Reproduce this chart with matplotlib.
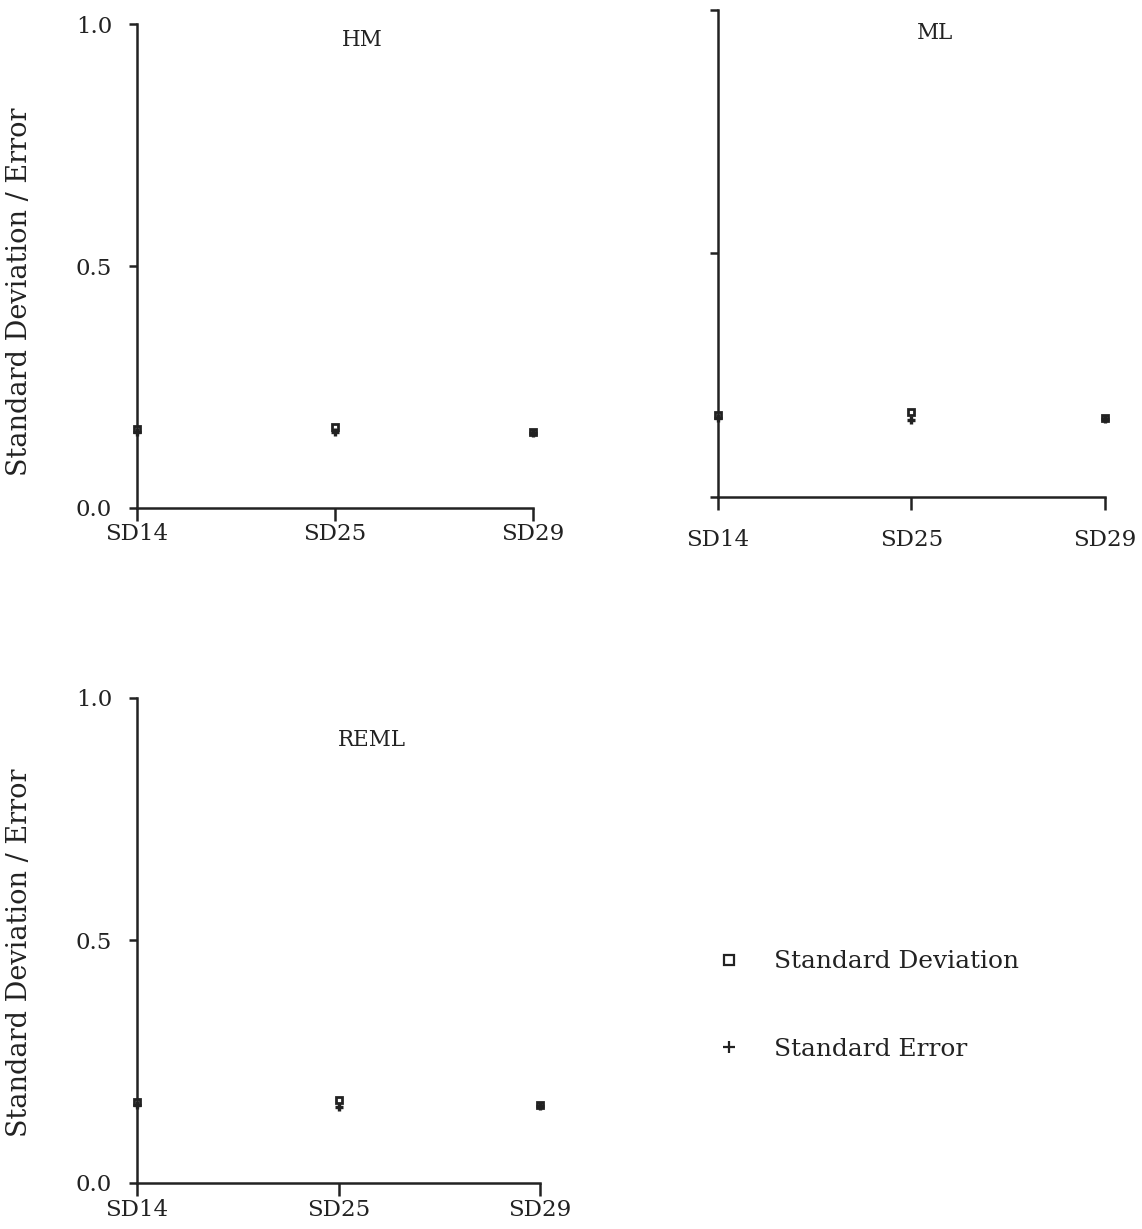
import matplotlib
matplotlib.use("Agg")
import matplotlib.pyplot as plt

plt.rcParams['font.family'] = ['DejaVu Serif']

sites = ['SD14', 'SD25', 'SD29']
methods = ['HM', 'ML', 'REML']

# standard deviation and standard error per site, for each estimation method
sd_hm = [0.163, 0.168, 0.158]
se_hm = [0.158, 0.157, 0.156]
sd_ml = [0.168, 0.175, 0.162]
se_ml = [0.163, 0.158, 0.160]
sd_reml = [0.166, 0.171, 0.159]
se_reml = [0.160, 0.156, 0.157]

ink = '#222222'
fs = 16.5

fig = plt.figure(figsize=(11.42, 12.29), dpi=100)

# [left, bottom, width, height], title pos, y labels shown, x label pad, ylabel y
panels = [
    ('HM', sd_hm, se_hm, [0.120, 0.5867, 0.3468, 0.3935], (0.568, 0.968), True, 2, 0.447),
    ('ML', sd_ml, se_ml, [0.6287, 0.5956, 0.3389, 0.3963], (0.561, 0.953), False, 14, None),
    ('REML', sd_reml, se_reml, [0.120, 0.0378, 0.3529, 0.3946], (0.583, 0.913), True, 3, 0.473),
]

for name, sd, se, rect, tpos, ylabels, xpad, ly in panels:
    ax = fig.add_axes(rect)
    x = range(len(sites))
    ax.plot(x, sd, ls='none', marker='s', ms=5, mew=2.0, mfc='none', mec=ink,
            clip_on=False, zorder=3)
    ax.plot(x, se, ls='none', marker='+', ms=6, mew=2.4, color=ink,
            clip_on=False, zorder=3)
    ax.set_xlim(0, 2)
    ax.set_ylim(0, 1)
    ax.set_xticks(list(x))
    ax.set_xticklabels(sites, fontsize=fs)
    ax.set_yticks([0.0, 0.5, 1.0])
    if ylabels:
        ax.set_yticklabels(['0.0', '0.5', '1.0'], fontsize=fs)
        ax.set_ylabel('Standard Deviation / Error', fontsize=19.5, color=ink)
        # label's descender side sits about 104 px left of the y axis
        ax.yaxis.set_label_coords(-104 / (rect[2] * 1142), ly)
    else:
        ax.set_yticklabels([])
    for s in ['top', 'right']:
        ax.spines[s].set_visible(False)
    for s in ['left', 'bottom']:
        ax.spines[s].set_linewidth(1.8)
        ax.spines[s].set_color(ink)
    ax.tick_params(axis='y', direction='out', length=6, width=1.8, pad=12,
                   colors=ink)
    ax.tick_params(axis='x', direction='out', length=9, width=1.8, pad=xpad,
                   colors=ink)
    ax.text(tpos[0], tpos[1], name, transform=ax.transAxes, ha='center',
            va='center', fontsize=fs - 1, color=ink)

# legend in the empty lower right slot
h_sd, = plt.plot([], [], ls='none', marker='s', ms=7, mew=1.6, mfc='none', mec=ink)
h_se, = plt.plot([], [], ls='none', marker='+', ms=9, mew=1.6, color=ink)
fig.legend([h_sd, h_se], ['Standard Deviation', 'Standard Error'],
           loc='upper left', bbox_to_anchor=(0.608, 0.245), frameon=False,
           fontsize=17.9, labelspacing=2.6, handlelength=1.0, handletextpad=1.3,
           labelcolor=ink)

fig.savefig('out.png', dpi=100, facecolor='white')
